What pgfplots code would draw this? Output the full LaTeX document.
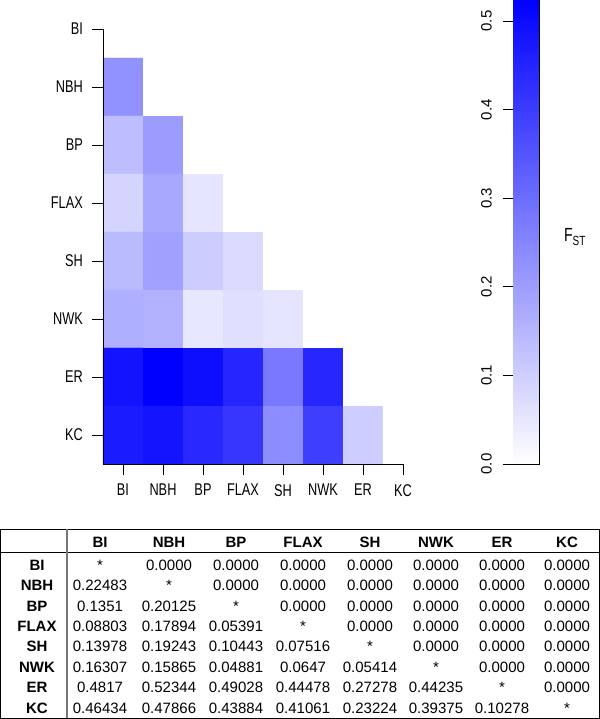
\documentclass[border=0pt]{standalone}
\usepackage{pgfplots}
\pgfplotsset{compat=1.18}
\usepackage{fontspec}
\setmainfont{Liberation Sans}
\newfontfamily\narrowfont[FakeStretch=0.75]{Liberation Sans}
\definecolor{tblgray}{RGB}{120,120,120}
\begin{document}
\begin{tikzpicture}[x=1bp,y=1bp]
\path[use as bounding box] (0,0) rectangle (600,719);
\pgfplotsset{
  colormap={wb}{rgb255=(255,255,255) rgb255=(0,0,255)},
}
% ---------------- heat map ----------------
\begin{axis}[
  name=hm, at={(103bp,255bp)}, anchor=south west,
  width=320bp, height=464bp, scale only axis,
  xmin=-0.5, xmax=7.5, ymin=-0.5, ymax=7.5,
  y dir=reverse,
  axis line style={draw=none},
  xtick={0,...,7}, ytick={0,...,7},
  xticklabels={BI,NBH,BP,FLAX,SH,NWK,ER,KC},
  yticklabels={BI,NBH,BP,FLAX,SH,NWK,ER,KC},
  xtick pos=bottom, ytick pos=left, tick align=outside,
  major tick length=11bp,
  tick style={black, line width=0.8bp},
  ticklabel style={font=\narrowfont\fontsize{17bp}{20bp}\selectfont, inner sep=0pt},
  xticklabel shift=9bp, yticklabel shift=9bp,
  point meta min=0, point meta max=0.52344,
  clip=false,
]
\addplot[matrix plot, mesh/cols=8, point meta=explicit] table[meta=c] {
x y c
0 0 0
1 0 0
2 0 0
3 0 0
4 0 0
5 0 0
6 0 0
7 0 0
0 1 0.22483
1 1 0
2 1 0
3 1 0
4 1 0
5 1 0
6 1 0
7 1 0
0 2 0.1351
1 2 0.20125
2 2 0
3 2 0
4 2 0
5 2 0
6 2 0
7 2 0
0 3 0.08803
1 3 0.17894
2 3 0.05391
3 3 0
4 3 0
5 3 0
6 3 0
7 3 0
0 4 0.13978
1 4 0.19243
2 4 0.10443
3 4 0.07516
4 4 0
5 4 0
6 4 0
7 4 0
0 5 0.16307
1 5 0.15865
2 5 0.04881
3 5 0.0647
4 5 0.05414
5 5 0
6 5 0
7 5 0
0 6 0.4817
1 6 0.52344
2 6 0.49028
3 6 0.44478
4 6 0.27278
5 6 0.44235
6 6 0
7 6 0
0 7 0.46434
1 7 0.47866
2 7 0.43884
3 7 0.41061
4 7 0.23224
5 7 0.39375
6 7 0.10278
7 7 0
};
\draw[black, line width=0.8bp] (axis cs:-0.5,0) -- (axis cs:-0.5,7.5) -- (axis cs:7,7.5);
\end{axis}
% ---------------- colour bar ----------------
\begin{axis}[
  name=cb, at={(513bp,255bp)}, anchor=south west,
  width=26bp, height=464bp, scale only axis,
  xmin=0, xmax=1, ymin=0, ymax=0.5237,
  axis line style={draw=none},
  xtick=\empty, ytick={0,0.1,...,0.5},
  ytick pos=left, tick align=outside,
  major tick length=10bp,
  tick style={black, line width=0.8bp},
  yticklabel style={font=\fontsize{15bp}{18bp}\selectfont, rotate=90, anchor=south, inner sep=0pt},
  yticklabel shift=11bp,
  /pgf/number format/.cd, fixed, fixed zerofill, precision=1, assume math mode=true,
  /pgfplots/.cd,
  point meta min=0, point meta max=0.52344,
  clip=false,
]
\addplot[surf, shader=interp, mesh/cols=2, point meta=y] coordinates {
(0,0) (1,0)

(0,0.5237) (1,0.5237)
};
\draw[black, line width=0.8bp] (axis cs:0,0) -- (axis cs:1,0) -- (axis cs:1,0.5237);
\end{axis}
\node[font=\narrowfont\fontsize{19bp}{22bp}\selectfont] at (575,482) {F\textsubscript{ST}};
% ---------------- table ----------------
\draw[black, line width=0.9bp] (0.5,0.8) rectangle (599.5,190);
\draw[black, line width=0.9bp] (0,167) -- (600,167);
\draw[tblgray, line width=1.2bp] (67,190) -- (67,0.8);
\foreach \h/\x in {BI/100,NBH/169,BP/236,FLAX/303,SH/370,NWK/436,ER/502,KC/567}
  \node[font=\bfseries\fontsize{15bp}{18bp}\selectfont, anchor=base, inner sep=0pt] at (\x,719-542-5.4) {\h};
\foreach \l/\a/\b/\c/\d/\e/\f/\g/\h [count=\k from 0] in {
  BI/*/0.0000/0.0000/0.0000/0.0000/0.0000/0.0000/0.0000,
  NBH/0.22483/*/0.0000/0.0000/0.0000/0.0000/0.0000/0.0000,
  BP/0.1351/0.20125/*/0.0000/0.0000/0.0000/0.0000/0.0000,
  FLAX/0.08803/0.17894/0.05391/*/0.0000/0.0000/0.0000/0.0000,
  SH/0.13978/0.19243/0.10443/0.07516/*/0.0000/0.0000/0.0000,
  NWK/0.16307/0.15865/0.04881/0.0647/0.05414/*/0.0000/0.0000,
  ER/0.4817/0.52344/0.49028/0.44478/0.27278/0.44235/*/0.0000,
  KC/0.46434/0.47866/0.43884/0.41061/0.23224/0.39375/0.10278/*}
{
  \pgfmathsetmacro{\yy}{719-565-20.4*\k-5.4}
  \begin{scope}[every node/.style={font=\fontsize{15bp}{18bp}\selectfont, anchor=base, inner sep=0pt}]
  \node[font=\bfseries\fontsize{15bp}{18bp}\selectfont] at (37,\yy) {\l};
  \node at (100,\yy) {\a};
  \node at (169,\yy) {\b};
  \node at (236,\yy) {\c};
  \node at (303,\yy) {\d};
  \node at (370,\yy) {\e};
  \node at (436,\yy) {\f};
  \node at (502,\yy) {\g};
  \node at (567,\yy) {\h};
  \end{scope}
}
\end{tikzpicture}
\end{document}
